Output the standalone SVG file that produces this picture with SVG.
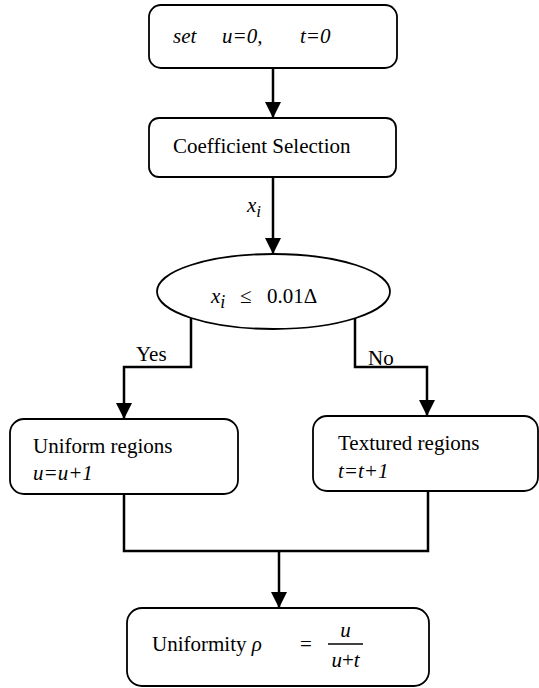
<svg xmlns="http://www.w3.org/2000/svg" width="539" height="688" viewBox="0 0 539 688">
<style>
.box{fill:#fff;stroke:#000;stroke-width:1.8}
.ln{fill:none;stroke:#000;stroke-width:2.5}
.t{font-size:21px;fill:#000}
.i{font-style:italic}
</style>
<defs>
<marker id="ah" markerWidth="16" markerHeight="16" viewBox="0 0 16 16" refX="16" refY="8" orient="auto" markerUnits="userSpaceOnUse">
<path d="M0,0 L16,8 L0,16 Z" fill="#000"/>
</marker>
<clipPath id="clipU"><rect x="20" y="460" width="200" height="21"/></clipPath>
</defs>
<g font-family="'Liberation Serif', 'DejaVu Serif', serif">
<g id="connectors">
<line class="ln" x1="273" y1="68" x2="273" y2="118" marker-end="url(#ah)"/>
<line class="ln" x1="273" y1="177" x2="273" y2="254" marker-end="url(#ah)"/>
<polyline class="ln" points="191,318 191,367 124,367 124,419" marker-end="url(#ah)"/>
<polyline class="ln" points="355,318 355,367 427,367 427,416" marker-end="url(#ah)"/>
<polyline class="ln" points="124,494 124,551 428,551 428,491"/>
<line class="ln" x1="279" y1="551" x2="279" y2="608" marker-end="url(#ah)"/>
<text class="t" x="247" y="212" font-style="italic" font-size="25">x<tspan font-size="17" dy="5">i</tspan></text>
<text class="t" x="136" y="361" font-size="18">Yes</text>
<text class="t" x="368" y="365" font-size="18">No</text>
</g>
<g id="n1">
<rect class="box" x="149" y="5" width="248" height="63" rx="12"/>
<text class="t i" y="43" font-size="23"><tspan x="173">set</tspan><tspan x="222">u=0,</tspan><tspan x="300">t=0</tspan></text>
</g>
<g id="n2">
<rect class="box" x="149" y="118" width="247" height="59" rx="10"/>
<text class="t" x="173" y="153">Coefficient Selection</text>
</g>
<g id="n3">
<ellipse class="box" cx="273.5" cy="291.5" rx="116.5" ry="37.5"/>
<text class="t" y="303" font-size="26"><tspan x="211" font-style="italic">x</tspan><tspan font-size="18" font-style="italic" dy="5">i</tspan><tspan x="240" dy="-5">≤</tspan><tspan x="267">0.01Δ</tspan></text>
</g>
<g id="n4">
<rect class="box" x="10" y="419" width="228" height="75" rx="14"/>
<text class="t" x="33" y="453">Uniform regions</text>
<text class="t i" x="33" y="480" font-size="23" clip-path="url(#clipU)">u=u+1</text>
</g>
<g id="n5">
<rect class="box" x="313" y="416" width="225" height="75" rx="14"/>
<text class="t" x="338" y="450">Textured regions</text>
<text class="t i" x="338" y="478" font-size="23">t=t+1</text>
</g>
<g id="n6">
<rect class="box" x="127" y="608" width="302" height="78" rx="15"/>
<text class="t" x="152" y="651" font-size="26">Uniformity <tspan font-style="italic">ρ</tspan><tspan x="300">=</tspan></text>
<line x1="328" y1="644" x2="363" y2="644" stroke="#000" stroke-width="1.5"/>
<text class="t i" x="345.5" y="637" font-size="20" text-anchor="middle">u</text>
<text class="t" x="345.5" y="667" font-size="20" text-anchor="middle"><tspan font-style="italic">u</tspan>+<tspan font-style="italic">t</tspan></text>
</g>
</g>
</svg>
